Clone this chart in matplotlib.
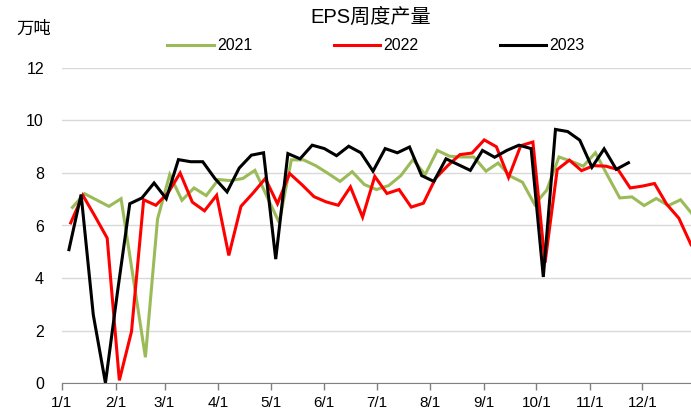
import numpy as np
import pandas as pd
import matplotlib
matplotlib.use("Agg")
import matplotlib.pyplot as plt

plt.rcParams['font.family'] = ['Liberation Sans', 'Noto Sans CJK SC', 'DejaVu Sans']

# weekly EPS output, 10k tonnes (Thursday of each week)
start_2021 = '2021-01-07'
start_2022 = '2022-01-06'
start_2023 = '2023-01-05'

eps_2021 = [6.69, 7.21, 6.97, 6.73, 7.02, 4.0, 0.98, 6.25, 7.94, 6.96,
            7.43, 7.14, 7.75, 7.71, 7.79, 8.1, 7.1, 6.11, 8.5, 8.5,
            8.28, 7.99, 7.68, 8.05, 7.56, 7.37, 7.52, 7.9, 8.51, 7.94,
            8.86, 8.64, 8.61, 8.61, 8.07, 8.38, 7.88, 7.65, 6.8, 7.35,
            8.61, 8.45, 8.26, 8.77, 7.9, 7.05, 7.09, 6.76, 7.03, 6.76,
            6.98, 6.41]
eps_2022 = [6.1, 7.15, 6.35, 5.52, 0.1, 1.96, 6.98, 6.77, 7.24, 8.0,
            6.89, 6.56, 7.15, 4.86, 6.73, 7.24, 7.79, 6.83, 7.98, 7.56,
            7.1, 6.9, 6.77, 7.47, 6.32, 7.87, 7.22, 7.37, 6.7, 6.85,
            7.8, 8.28, 8.7, 8.76, 9.26, 9.0, 7.83, 9.04, 9.18, 4.58,
            8.13, 8.49, 8.09, 8.28, 8.26, 8.13, 7.43, 7.5, 7.6, 6.81,
            6.28, 5.27]
eps_2023 = [5.08, 7.18, 2.6, 0.0, 3.5, 6.83, 7.05, 7.62, 7.02, 8.51,
            8.43, 8.43, 7.79, 7.28, 8.19, 8.68, 8.77, 4.72, 8.74, 8.54,
            9.06, 8.93, 8.66, 9.02, 8.77, 8.07, 8.93, 8.77, 8.99, 7.9,
            7.68, 8.54, 8.32, 8.10, 8.86, 8.6, 8.86, 9.06, 8.93, 4.04,
            9.66, 9.58, 9.25, 8.22, 8.92, 8.14, 8.39]

month_labels = ['1/1', '2/1', '3/1', '4/1', '5/1', '6/1',
                '7/1', '8/1', '9/1', '10/1', '11/1', '12/1']


def day_x(start, n):
    # day of year (Jan 1 = 0) so every year shares one axis
    d = pd.date_range(start, periods=n, freq='7D')
    return np.asarray(d.dayofyear) - 1


series = [
    (start_2021, eps_2021, '#9BBB59', '2021'),
    (start_2022, eps_2022, '#FF0000', '2022'),
    (start_2023, eps_2023, '#000000', '2023'),
]

fig = plt.figure(figsize=(6.91, 4.15), dpi=100)
ax = fig.add_axes([62 / 691, 32 / 415, 629 / 691, 315 / 415])

for start, vals, col, lab in series:
    ax.plot(day_x(start, len(vals)), vals, color=col, lw=2.2, label=lab,
            solid_joinstyle='miter')

month_pos = np.asarray(pd.date_range('2021-01-01', periods=12, freq='MS').dayofyear) - 1
ax.set_xticks(month_pos)
ax.set_xticklabels(month_labels, fontsize=11)
ax.set_xlim(0, 362)
ax.set_ylim(0, 12)
ax.set_yticks(range(0, 13, 2))
ax.tick_params(axis='y', length=0, pad=13, labelsize=11.5)
ax.tick_params(axis='x', length=5, width=1, color='#808080', pad=4)
ax.grid(axis='y', color='#d9d9d9', lw=1)
ax.set_axisbelow(True)
for s in ['left', 'right', 'top']:
    ax.spines[s].set_visible(False)
ax.spines['bottom'].set_color('#808080')
ax.spines['bottom'].set_zorder(3)

fig.text(371 / 691, 1 - 17.5 / 415, 'EPS周度产量', ha='center', va='center', fontsize=14.5)
fig.text(16 / 691, 1 - 28.5 / 415, '万吨', ha='left', va='center', fontsize=12.5)

fig.legend(loc='center', bbox_to_anchor=(376 / 691, 1 - 46 / 415), ncol=3,
           frameon=False, fontsize=11.5, handlelength=2.9, handletextpad=0.2,
           columnspacing=5.1)

fig.savefig('out.png', dpi=100)
